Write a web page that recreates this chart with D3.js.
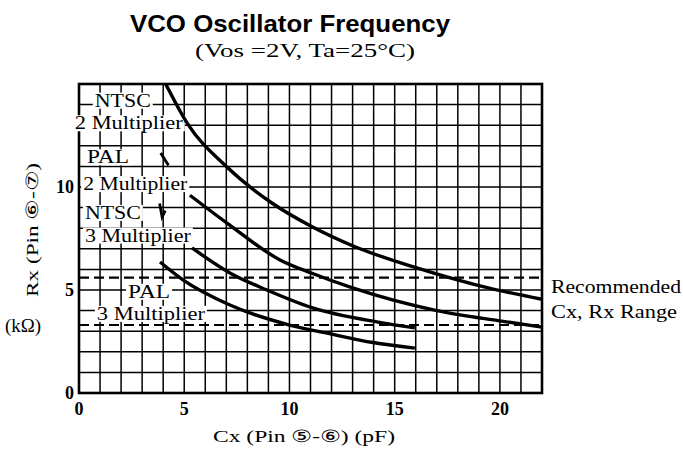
<!DOCTYPE html>
<html><head><meta charset="utf-8">
<script src="https://cdn.jsdelivr.net/npm/d3@7"></script>
<style>body{margin:0;background:#fff}</style>
</head><body>
<svg id="c" width="683" height="454"></svg>
<script>
// ---- data ----
const xTicks = [0, 5, 10, 15, 20];
const yTicks = [0, 5, 10];
const ntsc2 = [[4.12,15],[5.14,13.1],[7.03,10.97],[9.2,9.2],[11.1,8.06],[13,7.15],[16.05,6.07],[19.05,5.2],[22,4.55]];
const pal2  = [[5.27,9.6],[7.03,8.25],[9.55,6.46],[11.1,5.8],[13,5.1],[17,4.0],[20,3.5],[22,3.2]];
const ntsc3 = [[5.37,7.04],[7.17,5.83],[8.93,5.0],[11.1,4.13],[14.15,3.45],[15.96,3.16]];
const pal3  = [[3.85,6.36],[4.94,5.49],[7.17,4.27],[10,3.3],[11.9,2.88],[13.97,2.45],[15.96,2.18]];
const rangeLines = [5.6, 3.3];
const leaders = [[[3.88,11.65],[4.25,11.05]], [[3.83,9.2],[3.95,8.55],[4.1,8.85]]];
const labels = [
  {t:"NTSC", x:0.75, y:13.9, w:56},
  {t:"2 Multiplier", x:-0.2, y:12.8, w:108},
  {t:"PAL", x:0.38, y:11.15, w:42},
  {t:"2 Multiplier", x:0.2, y:9.85, w:104},
  {t:"NTSC", x:0.28, y:8.45, w:56},
  {t:"3 Multiplier", x:0.28, y:7.35, w:106},
  {t:"PAL", x:2.33, y:4.62, w:42},
  {t:"3 Multiplier", x:0.85, y:3.55, w:108}
];

const svg = d3.select("#c");
const x = d3.scaleLinear().domain([0,22]).range([79,542]);
const y = d3.scaleLinear().domain([0,15]).range([393,84]);
const serif = "'Liberation Serif','DejaVu Serif',serif";

// grid
const g = svg.append("g");
g.selectAll(".v").data(d3.range(0,23)).join("line")
  .attr("x1",d=>x(d)).attr("x2",d=>x(d)).attr("y1",y(0)).attr("y2",y(15))
  .attr("stroke","#000").attr("stroke-width",1.5);
g.selectAll(".h").data(d3.range(0,16)).join("line")
  .attr("x1",x(0)).attr("x2",x(22)).attr("y1",d=>y(d)).attr("y2",d=>y(d))
  .attr("stroke","#000").attr("stroke-width",1.5);

// border
svg.append("rect").attr("x",x(0)).attr("y",y(15)).attr("width",x(22)-x(0)).attr("height",y(0)-y(15))
  .attr("fill","none").attr("stroke","#000").attr("stroke-width",2.6);

// labels with white backgrounds
const lg = svg.append("g");
labels.forEach(l=>{
  const t = lg.append("text").attr("x",x(l.x)).attr("y",y(l.y))
    .attr("font-family",serif).attr("font-size",18)
    .attr("textLength",l.w).attr("lengthAdjust","spacingAndGlyphs").text(l.t);
  const b = t.node().getBBox();
  lg.insert("rect","text").attr("x",b.x-2).attr("y",b.y+2).attr("width",b.width+4).attr("height",b.height-4).attr("fill","#fff");
});

// dashed range lines
svg.selectAll(".dash").data(rangeLines).join("line")
  .attr("x1",x(0)).attr("x2",x(22)).attr("y1",d=>y(d)).attr("y2",d=>y(d))
  .attr("stroke","#000").attr("stroke-width",2.2).attr("stroke-dasharray","10,5");

// curves
const line = d3.line().x(d=>x(d[0])).y(d=>y(d[1])).curve(d3.curveMonotoneX);
[ntsc2,pal2,ntsc3,pal3].forEach(c=>{
  svg.append("path").attr("d",line(c)).attr("fill","none").attr("stroke","#000").attr("stroke-width",3.4);
});
const lline = d3.line().x(d=>x(d[0])).y(d=>y(d[1]));
leaders.forEach(c=>svg.append("path").attr("d",lline(c)).attr("fill","none").attr("stroke","#000").attr("stroke-width",2.8));

// tick labels
svg.selectAll(".xt").data(xTicks).join("text")
  .attr("x",d=>x(d)).attr("y",415).attr("text-anchor","middle")
  .attr("font-family",serif).attr("font-weight","bold").attr("font-size",18).text(d=>d);
svg.selectAll(".yt").data(yTicks).join("text")
  .attr("x",74).attr("y",d=>y(d)+6).attr("text-anchor","end")
  .attr("font-family",serif).attr("font-weight","bold").attr("font-size",18).text(d=>d);

// titles
svg.append("text").attr("x",290).attr("y",32).attr("text-anchor","middle")
  .attr("font-family","'Liberation Sans',Arial,sans-serif").attr("font-weight","bold").attr("font-size",24)
  .attr("textLength",320).attr("lengthAdjust","spacingAndGlyphs").text("VCO Oscillator Frequency");
svg.append("text").attr("x",305).attr("y",57).attr("text-anchor","middle")
  .attr("font-family",serif).attr("font-size",18)
  .attr("textLength",220).attr("lengthAdjust","spacingAndGlyphs").text("(Vos =2V,  Ta=25°C)");
svg.append("text").attr("x",304).attr("y",442).attr("text-anchor","middle")
  .attr("font-family",serif).attr("font-size",17)
  .attr("textLength",182).attr("lengthAdjust","spacingAndGlyphs").text("Cx (Pin ⑤-⑥) (pF)");
svg.append("text").attr("transform","translate(38,230) rotate(-90)").attr("text-anchor","middle")
  .attr("font-family",serif).attr("font-size",17)
  .attr("textLength",134).attr("lengthAdjust","spacingAndGlyphs").text("Rx (Pin ⑥-⑦)");
svg.append("text").attr("x",23).attr("y",332).attr("text-anchor","middle")
  .attr("font-family",serif).attr("font-size",19)
  .attr("textLength",36).attr("lengthAdjust","spacingAndGlyphs").text("(kΩ)");
svg.append("text").attr("x",551).attr("y",293)
  .attr("font-family",serif).attr("font-size",19)
  .attr("textLength",130).attr("lengthAdjust","spacingAndGlyphs").text("Recommended");
svg.append("text").attr("x",551).attr("y",318)
  .attr("font-family",serif).attr("font-size",19)
  .attr("textLength",126).attr("lengthAdjust","spacingAndGlyphs").text("Cx, Rx Range");
</script>
</body></html>
